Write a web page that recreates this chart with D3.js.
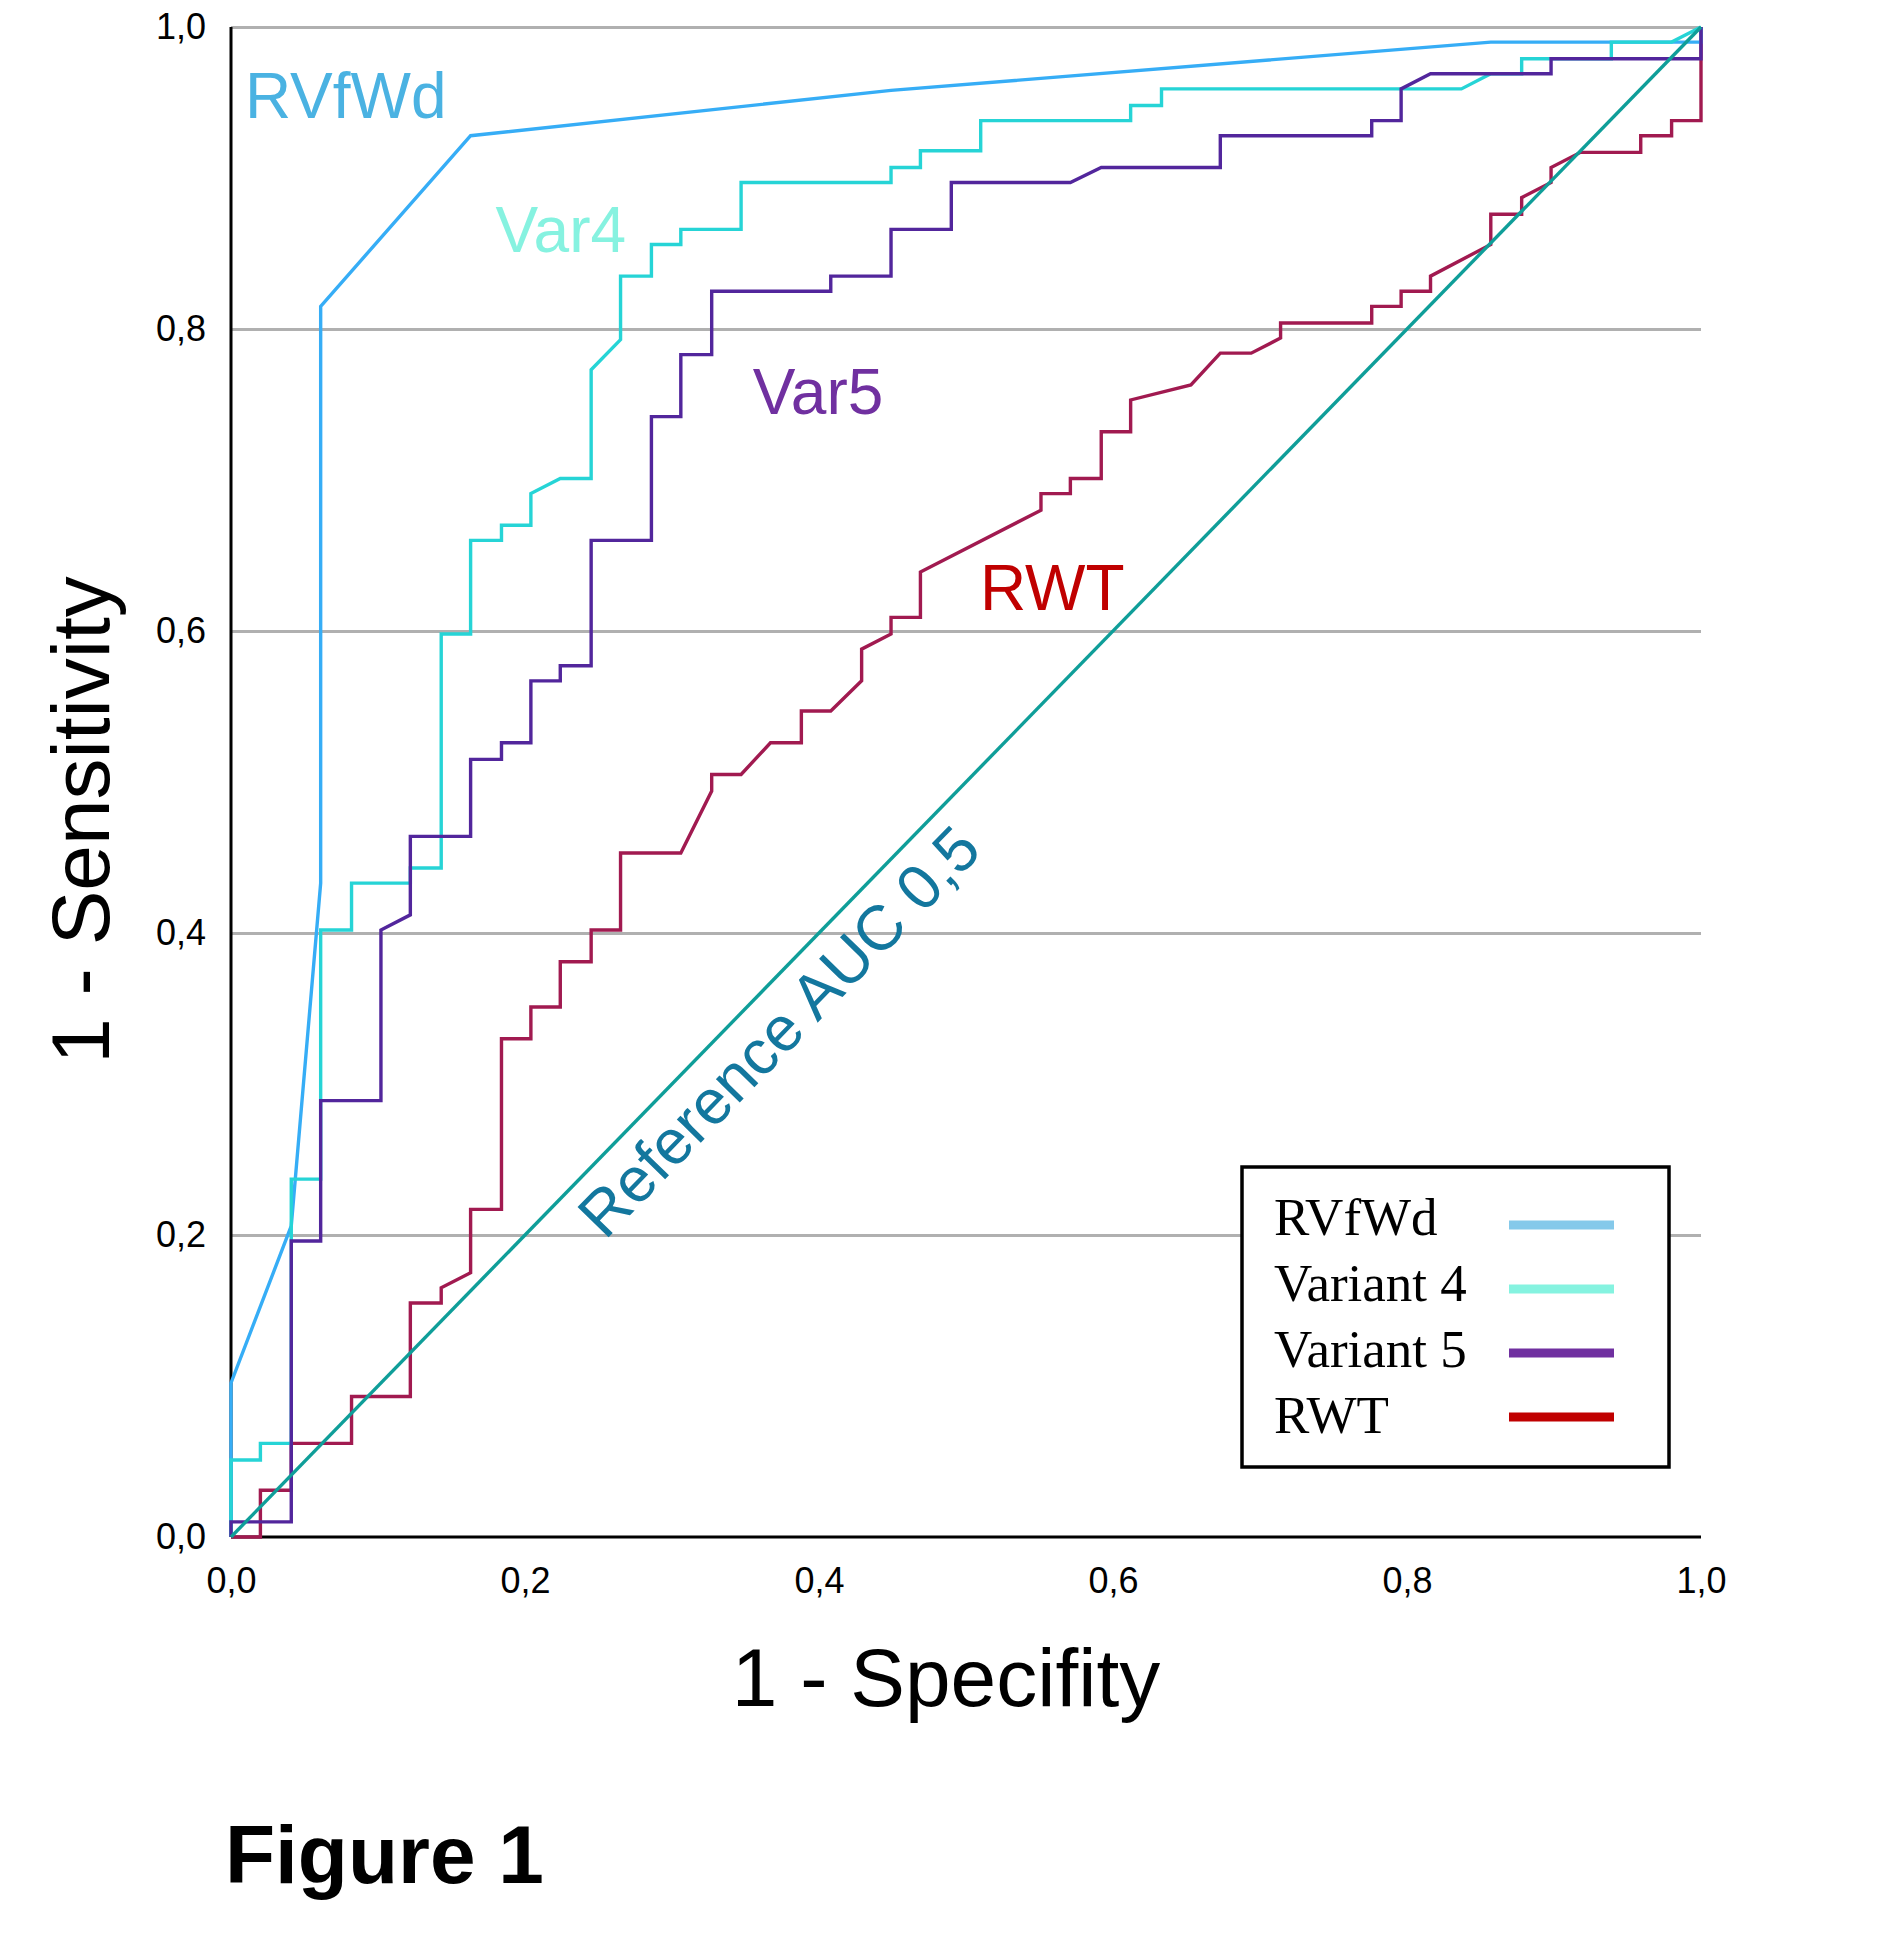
<!doctype html>
<html>
  <head>
    <meta charset="utf-8" />
    <title>Figure 1</title>
    <style>
      body {
        margin: 0;
        background: white;
      }
      #chart text {
        font-family: 'Liberation Sans', Arial, sans-serif;
      }
      #chart .legend text {
        font-family: 'Liberation Serif', 'Times New Roman', serif;
      }
    </style>
  </head>
  <body>
    <svg id="chart" width="1893" height="1946"></svg>

    <script src="https://d3js.org/d3.v7.min.js"></script>
    <script>
      // ROC curves as [1 - specifity, 1 - sensitivity] points
      const rvfwd = [
        [0, 0], [0, 0.102], [0.041, 0.206], [0.061, 0.433], [0.061, 0.815],
        [0.163, 0.928], [0.449, 0.958], [0.857, 0.99], [1, 0.99], [1, 1],
      ];
      const var4 = [
        [0, 0], [0, 0.051], [0.02, 0.051], [0.02, 0.062], [0.041, 0.062],
        [0.041, 0.237], [0.061, 0.237], [0.061, 0.402], [0.082, 0.402],
        [0.082, 0.433], [0.122, 0.433], [0.122, 0.443], [0.143, 0.443],
        [0.143, 0.598], [0.163, 0.598], [0.163, 0.66], [0.184, 0.66],
        [0.184, 0.67], [0.204, 0.67], [0.204, 0.691], [0.224, 0.701],
        [0.245, 0.701], [0.245, 0.773], [0.265, 0.793], [0.265, 0.835],
        [0.286, 0.835], [0.286, 0.856], [0.306, 0.856], [0.306, 0.866],
        [0.347, 0.866], [0.347, 0.897], [0.449, 0.897], [0.449, 0.907],
        [0.469, 0.907], [0.469, 0.918], [0.51, 0.918], [0.51, 0.938],
        [0.612, 0.938], [0.612, 0.948], [0.633, 0.948], [0.633, 0.959],
        [0.837, 0.959], [0.857, 0.969], [0.878, 0.969], [0.878, 0.979],
        [0.939, 0.979], [0.939, 0.99], [0.98, 0.99], [1, 1],
      ];
      const var5 = [
        [0, 0], [0, 0.01], [0.041, 0.01], [0.041, 0.196], [0.061, 0.196],
        [0.061, 0.289], [0.102, 0.289], [0.102, 0.402], [0.122, 0.412],
        [0.122, 0.464], [0.163, 0.464], [0.163, 0.515], [0.184, 0.515],
        [0.184, 0.526], [0.204, 0.526], [0.204, 0.567], [0.224, 0.567],
        [0.224, 0.577], [0.245, 0.577], [0.245, 0.66], [0.286, 0.66],
        [0.286, 0.742], [0.306, 0.742], [0.306, 0.783], [0.327, 0.783],
        [0.327, 0.825], [0.408, 0.825], [0.408, 0.835], [0.449, 0.835],
        [0.449, 0.866], [0.49, 0.866], [0.49, 0.897], [0.571, 0.897],
        [0.592, 0.907], [0.673, 0.907], [0.673, 0.928], [0.776, 0.928],
        [0.776, 0.938], [0.796, 0.938], [0.796, 0.959], [0.816, 0.969],
        [0.898, 0.969], [0.898, 0.979], [1, 0.979], [1, 1],
      ];
      const rwt = [
        [0, 0], [0.02, 0], [0.02, 0.031], [0.041, 0.031], [0.041, 0.062],
        [0.082, 0.062], [0.082, 0.093], [0.122, 0.093], [0.122, 0.155],
        [0.143, 0.155], [0.143, 0.165], [0.163, 0.175], [0.163, 0.217],
        [0.184, 0.217], [0.184, 0.33], [0.204, 0.33], [0.204, 0.351],
        [0.224, 0.351], [0.224, 0.381], [0.245, 0.381], [0.245, 0.402],
        [0.265, 0.402], [0.265, 0.453], [0.306, 0.453], [0.327, 0.494],
        [0.327, 0.505], [0.347, 0.505], [0.367, 0.526], [0.388, 0.526],
        [0.388, 0.547], [0.408, 0.547], [0.429, 0.567], [0.429, 0.588],
        [0.449, 0.598], [0.449, 0.609], [0.469, 0.609], [0.469, 0.639],
        [0.551, 0.68], [0.551, 0.691], [0.571, 0.691], [0.571, 0.701],
        [0.592, 0.701], [0.592, 0.732], [0.612, 0.732], [0.612, 0.753],
        [0.653, 0.763], [0.673, 0.784], [0.694, 0.784], [0.714, 0.794],
        [0.714, 0.804], [0.776, 0.804], [0.776, 0.815], [0.796, 0.815],
        [0.796, 0.825], [0.816, 0.825], [0.816, 0.835], [0.857, 0.856],
        [0.857, 0.876], [0.878, 0.876], [0.878, 0.887], [0.898, 0.897],
        [0.898, 0.907], [0.918, 0.917], [0.959, 0.917], [0.959, 0.928],
        [0.98, 0.928], [0.98, 0.938], [1, 0.938], [1, 1],
      ];
      const reference = [[0, 0], [1, 1]];

      const tickValues = [0, 0.2, 0.4, 0.6, 0.8, 1.0];
      const legendLabels = ['RVfWd', 'Variant 4', 'Variant 5', 'RWT'];
      // in-plot curve names and where they sit (data units)
      const curveLabels = ['RVfWd', 'Var4', 'Var5', 'RWT'];
      const curveLabelAt = [[0.0095, 0.94], [0.18, 0.851], [0.355, 0.744], [0.5095, 0.614]];
      const referenceLabel = 'Reference AUC 0,5';
      const referenceLabelAt = [0.2544, 0.196];

      const svg = d3.select('#chart');
      const x = d3.scaleLinear().domain([0, 1]).range([231, 1701]);
      const y = d3.scaleLinear().domain([0, 1]).range([1537, 27]);
      const fmt = (d) => d.toFixed(1).replace('.', ',');

      // horizontal grid
      svg
        .append('g')
        .attr('transform', `translate(${x(0)},0)`)
        .call(
          d3.axisLeft(y)
            .tickValues(tickValues.slice(1))
            .tickSize(-(x(1) - x(0)))
            .tickFormat(''),
        )
        .call((g) => g.select('.domain').remove())
        .call((g) =>
          g.selectAll('line').attr('stroke', '#b0b0b0').attr('stroke-width', 3),
        );

      // tick labels
      svg
        .append('g')
        .attr('transform', `translate(${x(0)},0)`)
        .call(d3.axisLeft(y).tickValues(tickValues).tickSize(0).tickPadding(25).tickFormat(fmt))
        .call((g) => g.select('.domain').remove())
        .call((g) =>
          g.selectAll('text').attr('font-size', 36).attr('fill', '#000')
            .attr('font-family', "'Liberation Sans', Arial, sans-serif"),
        );
      svg
        .append('g')
        .attr('transform', `translate(0,${y(0)})`)
        .call(d3.axisBottom(x).tickValues(tickValues).tickSize(0).tickPadding(30).tickFormat(fmt))
        .call((g) => g.select('.domain').remove())
        .call((g) =>
          g.selectAll('text').attr('font-size', 36).attr('fill', '#000')
            .attr('font-family', "'Liberation Sans', Arial, sans-serif"),
        );

      // axis lines
      svg.append('line')
        .attr('x1', x(0)).attr('x2', x(0)).attr('y1', y(1)).attr('y2', y(0))
        .attr('stroke', '#000').attr('stroke-width', 3);
      svg.append('line')
        .attr('x1', x(0)).attr('x2', x(1)).attr('y1', y(0)).attr('y2', y(0))
        .attr('stroke', '#000').attr('stroke-width', 3);

      const line = d3.line().x((d) => x(d[0])).y((d) => y(d[1]));
      const curves = [
        { data: rwt, color: '#a11a50' },
        { data: rvfwd, color: '#36adf6' },
        { data: var4, color: '#26d4d6' },
        { data: var5, color: '#52269c' },
        { data: reference, color: '#0f9e99' },
      ];
      svg
        .append('g')
        .selectAll('path')
        .data(curves)
        .join('path')
        .attr('d', (d) => line(d.data))
        .attr('fill', 'none')
        .attr('stroke', (d) => d.color)
        .attr('stroke-width', 3.4);

      // curve names
      const labelColors = ['#4ab2e2', '#86f2e0', '#7030a0', '#c00000'];
      svg
        .append('g')
        .selectAll('text')
        .data(curveLabels)
        .join('text')
        .attr('x', (d, i) => x(curveLabelAt[i][0]))
        .attr('y', (d, i) => y(curveLabelAt[i][1]))
        .attr('font-size', 64)
        .attr('fill', (d, i) => labelColors[i])
        .text((d) => d);

      const angle = (Math.atan2(y(0) - y(1), x(1) - x(0)) * 180) / Math.PI;
      svg
        .append('text')
        .attr(
          'transform',
          `translate(${x(referenceLabelAt[0])},${y(referenceLabelAt[1])}) rotate(${-angle})`,
        )
        .attr('font-size', 63)
        .attr('fill', '#13779e')
        .text(referenceLabel);

      // axis titles
      svg.append('text')
        .attr('transform', 'translate(109,820) rotate(-90)')
        .attr('text-anchor', 'middle')
        .attr('font-size', 82)
        .text('1 - Sensitivity');
      svg.append('text')
        .attr('x', 946).attr('y', 1706)
        .attr('text-anchor', 'middle')
        .attr('font-size', 82)
        .text('1 - Specifity');
      svg.append('text')
        .attr('x', 225).attr('y', 1883)
        .attr('font-size', 82)
        .attr('font-weight', 'bold')
        .text('Figure 1');

      // legend
      const legendColors = ['#85c9ea', '#85f3e0', '#7030a0', '#c00000'];
      const legend = svg.append('g').attr('class', 'legend');
      legend.append('rect')
        .attr('x', 1242).attr('y', 1167).attr('width', 427).attr('height', 300)
        .attr('fill', 'white').attr('stroke', '#000').attr('stroke-width', 3.5);
      const items = legend
        .selectAll('g.item')
        .data(legendLabels)
        .join('g')
        .attr('class', 'item')
        .attr('transform', (d, i) => `translate(0,${i * 66})`);
      items.append('text')
        .attr('x', 1274).attr('y', 1235)
        .attr('font-size', 53)
        .attr('fill', '#000')
        .text((d) => d);
      items.append('line')
        .attr('x1', 1509).attr('x2', 1614)
        .attr('y1', (d, i) => 1225 - i * 2).attr('y2', (d, i) => 1225 - i * 2)
        .attr('stroke', (d, i) => legendColors[i])
        .attr('stroke-width', 9);
    </script>
  </body>
</html>
